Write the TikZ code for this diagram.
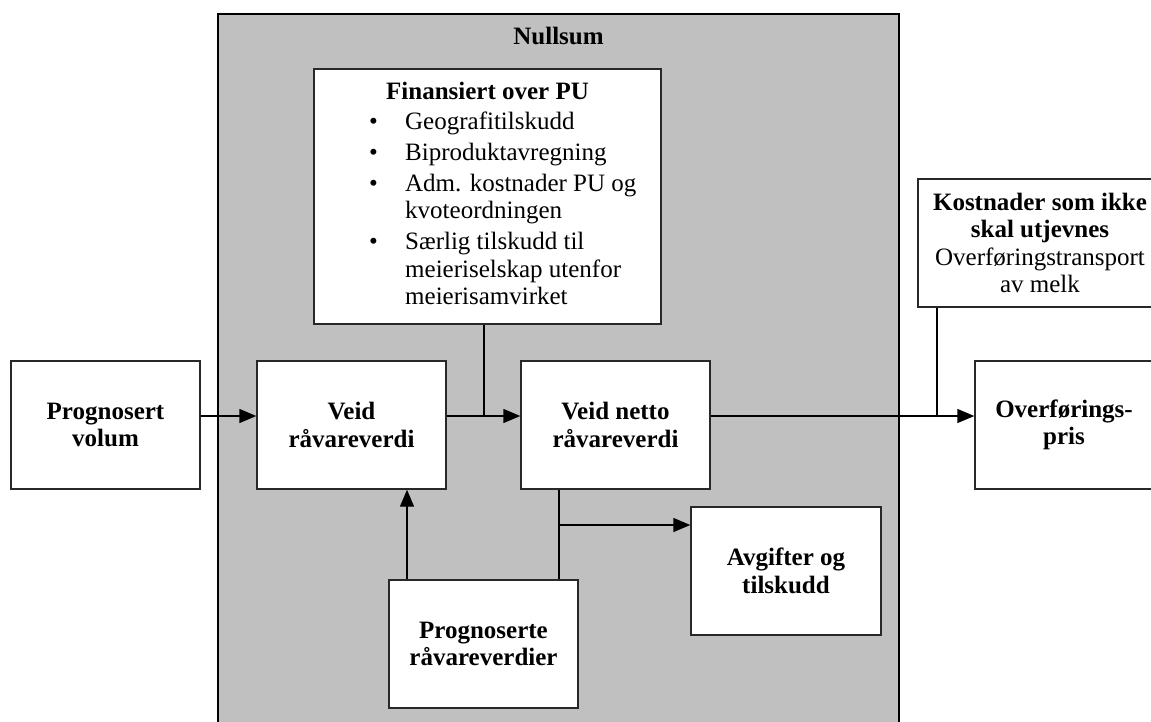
\documentclass[tikz,border=0pt]{standalone}
\usepackage{fontspec}
\setmainfont{Liberation Serif}
\usetikzlibrary{arrows.meta}
\definecolor{panelgray}{RGB}{192,192,192}
\definecolor{edgegray}{RGB}{40,40,40}
\begin{document}
\begin{tikzpicture}[x=1pt,y=-1pt,
  txt/.style={inner sep=0pt, font=\fontsize{25}{27.5}\selectfont},
  box/.style={draw=edgegray, line width=1.4pt, fill=white, inner sep=0pt,
    align=center, font=\fontsize{25}{27.5}\selectfont\bfseries},
  flow/.style={line width=1.4pt, draw=black},
  arr/.style={flow, -{Triangle[length=17pt,width=14pt]}},
]
\useasboundingbox (0,0) rectangle (1151,721);

% zero-sum panel
\path[fill=panelgray, draw=black, line width=2.4pt] (218,14) rectangle (899,770);
\node[txt, font=\fontsize{25}{27.5}\selectfont\bfseries, anchor=base] (nullsum) at (558.5,44) {Nullsum};

% boxes
\node[box, minimum width=347pt, minimum height=255pt] (fin) at (487.5,196.5) {};
\node[txt, font=\fontsize{25}{27.5}\selectfont\bfseries, anchor=base] (fintitle) at (487.5,99) {Finansiert over PU};
\node[txt, anchor=base west] (finlist) at (369,129) {%
  \begin{tabular}[t]{@{}l@{}l@{}}
  \makebox[36pt][l]{\textbullet} & Geografitilskudd\\[3.5pt]
  \makebox[36pt][l]{\textbullet} & Biproduktavregning\\[3.5pt]
  \makebox[36pt][l]{\textbullet} & Adm. kostnader PU og\\
   & kvoteordningen\\[3.5pt]
  \makebox[36pt][l]{\textbullet} & Særlig tilskudd til\\
   & meieriselskap utenfor\\
   & meierisamvirket
  \end{tabular}};

\node[box, minimum width=189pt, minimum height=128pt] (pv) at (105.5,425) {Prognosert\\volum};
\node[box, minimum width=189pt, minimum height=128pt] (vr) at (351.5,425) {Veid\\råvareverdi};
\node[box, minimum width=189pt, minimum height=128pt] (vnr) at (615.5,425) {Veid netto\\råvareverdi};
\node[box, minimum width=189pt, minimum height=128pt] (pr) at (483.5,644) {Prognoserte\\råvareverdier};
\node[box, minimum width=190pt, minimum height=128pt] (at) at (786,571) {Avgifter og\\tilskudd};
\node[box, minimum width=244pt, minimum height=128pt] (kost) at (1040,243)
  {Kostnader som ikke\\skal utjevnes\\{\mdseries Overføringstransport}\\{\mdseries av melk}};
\node[box, minimum width=178pt, minimum height=128pt] (op) at (1064,425) {Overførings-\\pris};

% junction points
\coordinate (row) at (0,416);
\coordinate (j1) at (484,416);
\coordinate (j2) at (937,416);
\coordinate (up) at (407,0);
\coordinate (dn) at (559,0);
\coordinate (j3) at (559,525);

% connectors
\draw[arr] (pv.east |- row) -- (vr.west |- row);
\draw[arr] (vr.east |- row) -- (vnr.west |- row);
\draw[flow] (fin.south -| j1) -- (j1);
\draw[arr] (vnr.east |- row) -- (op.west |- row);
\draw[flow] (kost.south -| j2) -- (j2);
\draw[arr] (pr.north -| up) -- (vr.south -| up);
\draw[flow] (vnr.south -| dn) -- (pr.north -| dn);
\draw[arr] (j3) -- (at.west |- j3);
\end{tikzpicture}
\end{document}
